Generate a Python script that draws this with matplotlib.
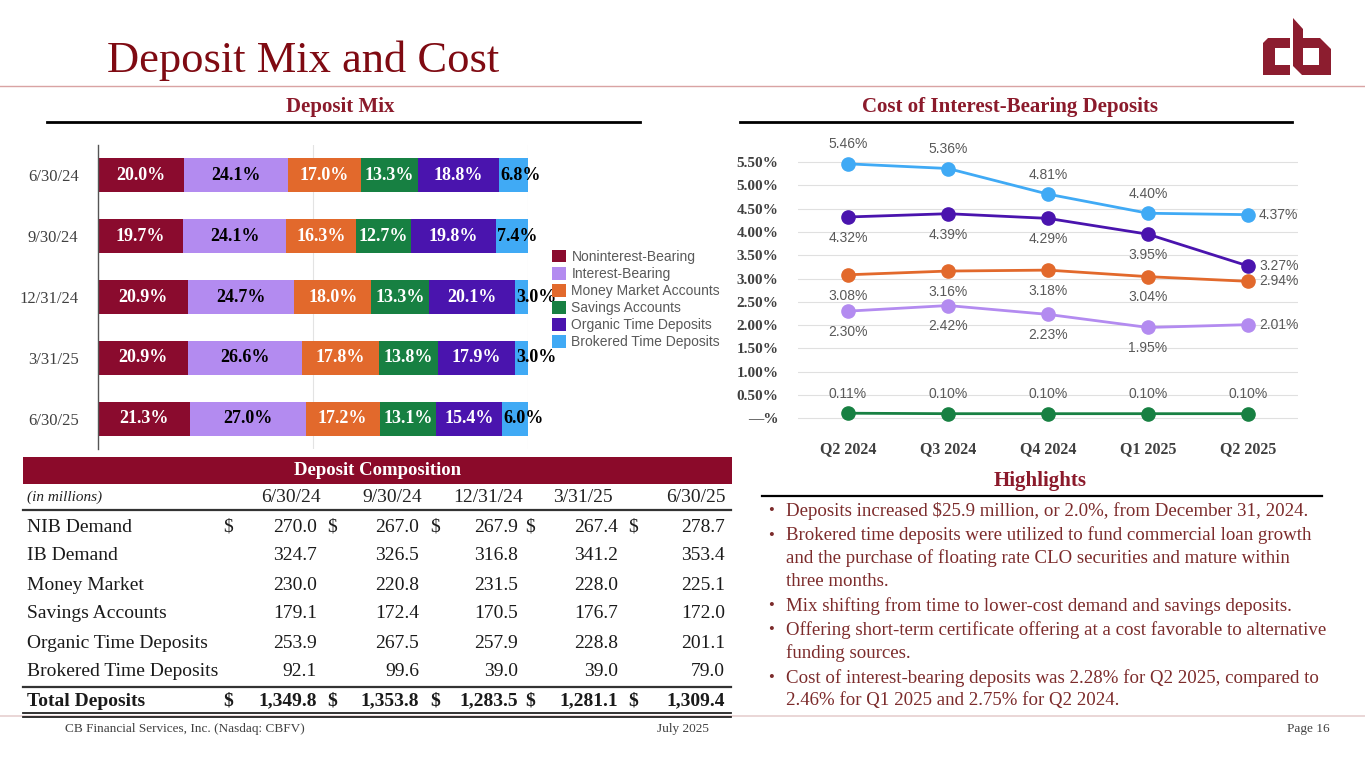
import numpy as np
import matplotlib.pyplot as plt
from matplotlib.patches import Rectangle, Polygon

# Fuentes
SERIF = 'Liberation Serif'
SANS = 'Liberation Sans'
plt.rcParams['font.family'] = SERIF

W, H = 1365, 768

# Datos: mezcla de depositos (%)
dates = ['6/30/24', '9/30/24', '12/31/24', '3/31/25', '6/30/25']
mix_nib = [20.0, 19.7, 20.9, 20.9, 21.3]
mix_ib = [24.1, 24.1, 24.7, 26.6, 27.0]
mix_mm = [17.0, 16.3, 18.0, 17.8, 17.2]
mix_sav = [13.3, 12.7, 13.3, 13.8, 13.1]
mix_org = [18.8, 19.8, 20.1, 17.9, 15.4]
mix_brk = [6.8, 7.4, 3.0, 3.0, 6.0]

series_names = ['Noninterest-Bearing', 'Interest-Bearing', 'Money Market Accounts',
                'Savings Accounts', 'Organic Time Deposits', 'Brokered Time Deposits']
colors = ['#8A0B2E', '#B38BF0', '#E2692C', '#178042', '#4A14AE', '#40AAF5']
label_colors = ['white', 'black', 'white', 'white', 'white', 'black']

# Costo de depositos con interes (%)
quarters = ['Q2 2024', 'Q3 2024', 'Q4 2024', 'Q1 2025', 'Q2 2025']
cost_ib = [2.30, 2.42, 2.23, 1.95, 2.01]
cost_mm = [3.08, 3.16, 3.18, 3.04, 2.94]
cost_sav = [0.11, 0.10, 0.10, 0.10, 0.10]
cost_org = [4.32, 4.39, 4.29, 3.95, 3.27]
cost_brk = [5.46, 5.36, 4.81, 4.40, 4.37]

# Tabla de composicion (millones)
row_names = ['NIB Demand', 'IB Demand', 'Money Market', 'Savings Accounts',
             'Organic Time Deposits', 'Brokered Time Deposits']
tbl_nib = [270.0, 267.0, 267.9, 267.4, 278.7]
tbl_ib = [324.7, 326.5, 316.8, 341.2, 353.4]
tbl_mm = [230.0, 220.8, 231.5, 228.0, 225.1]
tbl_sav = [179.1, 172.4, 170.5, 176.7, 172.0]
tbl_org = [253.9, 267.5, 257.9, 228.8, 201.1]
tbl_brk = [92.1, 99.6, 39.0, 39.0, 79.0]
tbl_total = [1349.8, 1353.8, 1283.5, 1281.1, 1309.4]

highlights = [
    ['Deposits increased $25.9 million, or 2.0%, from December 31, 2024.'],
    ['Brokered time deposits were utilized to fund commercial loan growth',
     'and the purchase of floating rate CLO securities and mature within',
     'three months.'],
    ['Mix shifting from time to lower-cost demand and savings deposits.'],
    ['Offering short-term certificate offering at a cost favorable to alternative',
     'funding sources.'],
    ['Cost of interest-bearing deposits was 2.28% for Q2 2025, compared to',
     '2.46% for Q1 2025 and 2.75% for Q2 2024.'],
]

MAROON = '#7F0A12'
HEAD = '#8B1A2B'
TXT_RED = '#7C2B2B'
TBL = '#1A1A1A'


def px_rect(x0, y0, x1, y1):
    return [x0 / W, 1 - y1 / H, (x1 - x0) / W, (y1 - y0) / H]


fig = plt.figure(figsize=(W / 100, H / 100), dpi=100)

# Capa de fondo en pixeles
bg = fig.add_axes([0, 0, 1, 1])
bg.set_xlim(0, W)
bg.set_ylim(H, 0)
bg.axis('off')

bg.text(107, 72, 'Deposit Mix and Cost', fontsize=32, color=MAROON, va='baseline')
bg.plot([0, W], [86, 86], color='#D9A3A3', lw=1)

# Logo cb
logo = '#8C1D2F'
bg.add_patch(Polygon([(1263, 43), (1268, 38), (1290, 38), (1290, 48), (1275, 48),
                      (1275, 65), (1290, 65), (1290, 75), (1263, 75)], color=logo, lw=0))
bg.add_patch(Polygon([(1293, 18), (1303, 29), (1303, 38), (1320, 38), (1331, 49),
                      (1331, 75), (1302, 75), (1293, 66)], color=logo, lw=0))
bg.add_patch(Rectangle((1303, 48), 16, 17, color='white', lw=0))

# Encabezados de seccion
bg.text(340, 107, 'Deposit Mix', fontsize=15, fontweight='bold', color=HEAD,
        ha='center', va='center')
bg.plot([47, 640], [122, 122], color='black', lw=2)
bg.text(1010, 107, 'Cost of Interest-Bearing Deposits', fontsize=15, fontweight='bold',
        color=HEAD, ha='center', va='center')
bg.plot([740, 1292], [122, 122], color='black', lw=2)

# ---- Barras apiladas ----
axb = fig.add_axes(px_rect(98, 145, 528, 449))
axb.set_facecolor('none')
mix = [mix_nib, mix_ib, mix_mm, mix_sav, mix_org, mix_brk]
ypos = np.arange(len(dates))
left = np.zeros(len(dates))
handles = []
for k, vals in enumerate(mix):
    vals = np.array(vals)
    h = axb.barh(ypos, vals, left=left, height=0.56, color=colors[k], label=series_names[k])
    handles.append(h)
    for i, v in enumerate(vals):
        if k == len(mix) - 1:
            axb.text(left[i] + 0.3, i, f'{v:.1f}%', ha='left', va='center', fontsize=13,
                     fontweight='bold', color=label_colors[k], clip_on=False)
        else:
            axb.text(left[i] + v / 2, i, f'{v:.1f}%', ha='center', va='center', fontsize=13,
                     fontweight='bold', color=label_colors[k])
    left += vals
axb.set_xlim(0, 100)
axb.set_ylim(4.5, -0.5)
axb.set_yticks(ypos)
axb.set_yticklabels(dates, fontsize=12, color='#404040')
axb.tick_params(axis='y', length=0, pad=14)
axb.set_xticks([])
for x in [50, 100]:
    axb.axvline(x, color='#E3E3E3', lw=0.8, zorder=0)
for s in ['top', 'right', 'bottom']:
    axb.spines[s].set_visible(False)
axb.spines['left'].set_color('#555555')
axb.spines['left'].set_linewidth(1)

leg = axb.legend(handles=handles, loc='upper left', bbox_to_anchor=(552 / W, 1 - 250 / H),
                 bbox_transform=fig.transFigure, frameon=False,
                 handlelength=1.0, handleheight=1.0, handletextpad=0.4,
                 labelspacing=0.22, borderpad=0, borderaxespad=0,
                 prop={'family': SANS, 'size': 10})
for t in leg.get_texts():
    t.set_color('#595959')

# ---- Lineas de costo ----
axl = fig.add_axes(px_rect(798, 141, 1298, 430))
axl.set_facecolor('none')
xq = np.arange(len(quarters))
lines = [(cost_ib, colors[1], 'below'), (cost_mm, colors[2], 'below'),
         (cost_sav, colors[3], 'above'), (cost_org, colors[4], 'below'),
         (cost_brk, colors[5], 'above')]
for vals, c, pos in lines:
    axl.plot(xq, vals, color=c, lw=2, marker='o', markersize=9.5, zorder=3)
    for i, v in enumerate(vals):
        if i == len(vals) - 1 and c != colors[3]:
            axl.annotate(f'{v:.2f}%', (i, v), xytext=(8, 0), textcoords='offset points',
                         ha='left', va='center', fontsize=10, family=SANS, color='#595959')
        else:
            dy = 14 if pos == 'above' else -15
            axl.annotate(f'{v:.2f}%', (i, v), xytext=(0, dy), textcoords='offset points',
                         ha='center', va='center', fontsize=10, family=SANS, color='#595959')
axl.set_xlim(-0.5, 4.5)
axl.set_ylim(-0.25, 5.95)
yt = np.arange(0, 5.51, 0.5)
axl.set_yticks(yt)
axl.set_yticklabels(['—%' if v == 0 else f'{v:.2f}%' for v in yt], fontsize=11,
                    fontweight='bold', color='#404040')
axl.set_xticks(xq)
axl.set_xticklabels(quarters, fontsize=11.5, fontweight='bold', color='#404040')
axl.tick_params(length=0)
axl.tick_params(axis='y', pad=14)
axl.tick_params(axis='x', pad=8)
axl.grid(axis='y', color='#E0E0E0', lw=0.8)
axl.set_axisbelow(True)
for s in axl.spines.values():
    s.set_visible(False)

# ---- Tabla ----
bg.add_patch(Rectangle((23, 457), 709, 27, color='#8B0A2A', lw=0))
bg.text(378, 470.5, 'Deposit Composition', fontsize=13.5, fontweight='bold', color='white',
        ha='center', va='center')
bg.text(27, 497, '(in millions)', fontsize=11, style='italic', color='#222222', va='center')
date_right = [321, 422, 523, 613, 726]
val_right = [317, 419, 518, 618, 725]
dollar_x = [228, 332, 435, 530, 633]
for d, x in zip(dates, date_right):
    bg.text(x, 497, d, fontsize=14, color='#222222', ha='right', va='center')
bg.plot([23, 731], [510, 510], color='#333333', lw=1.6)

tbl_rows = [tbl_nib, tbl_ib, tbl_mm, tbl_sav, tbl_org, tbl_brk]
for r, (name, vals) in enumerate(zip(row_names, tbl_rows)):
    y = 527 + 29 * r
    bg.text(27, y, name, fontsize=14, color=TBL, va='center')
    for j, v in enumerate(vals):
        bg.text(val_right[j], y, f'{v:,.1f}', fontsize=14, color=TBL,
                ha='right', va='center')
        if r == 0:
            bg.text(dollar_x[j], y, '$', fontsize=14, color=TBL, ha='center', va='center')
bg.plot([23, 731], [687, 687], color='#333333', lw=1.6)
bg.text(27, 701, 'Total Deposits', fontsize=14, fontweight='bold', color=TBL, va='center')
for j, v in enumerate(tbl_total):
    bg.text(val_right[j], 701, f'{v:,.1f}', fontsize=14, fontweight='bold', color=TBL,
            ha='right', va='center')
    bg.text(dollar_x[j], 701, '$', fontsize=14, fontweight='bold', color=TBL,
            ha='center', va='center')

# Linea inferior
bg.plot([0, W], [716, 716], color='#E6CFCF', lw=1.2)
bg.plot([23, 731], [713, 713], color='#222222', lw=1.3)
bg.plot([23, 731], [717, 717], color='#222222', lw=1.3)

# ---- Destacados ----
bg.text(1040, 481, 'Highlights', fontsize=15, fontweight='bold', color=HEAD,
        ha='center', va='center')
bg.plot([762, 1322], [496, 496], color='black', lw=1.6)
y = 511
for bullet in highlights:
    bg.text(771, y, '•', fontsize=12, color=TXT_RED, ha='center', va='center')
    for line in bullet:
        bg.text(786, y, line, fontsize=13.6, color=TXT_RED, va='center')
        y += 23
    y += 1.5

# Pie de pagina
bg.text(65, 729, 'CB Financial Services, Inc. (Nasdaq: CBFV)', fontsize=9.5, color='#404040',
        va='center')
bg.text(683, 729, 'July 2025', fontsize=9.5, color='#404040', ha='center', va='center')
bg.text(1330, 729, 'Page 16', fontsize=9.5, color='#404040', ha='right', va='center')

fig.savefig('out.png', dpi=100)
